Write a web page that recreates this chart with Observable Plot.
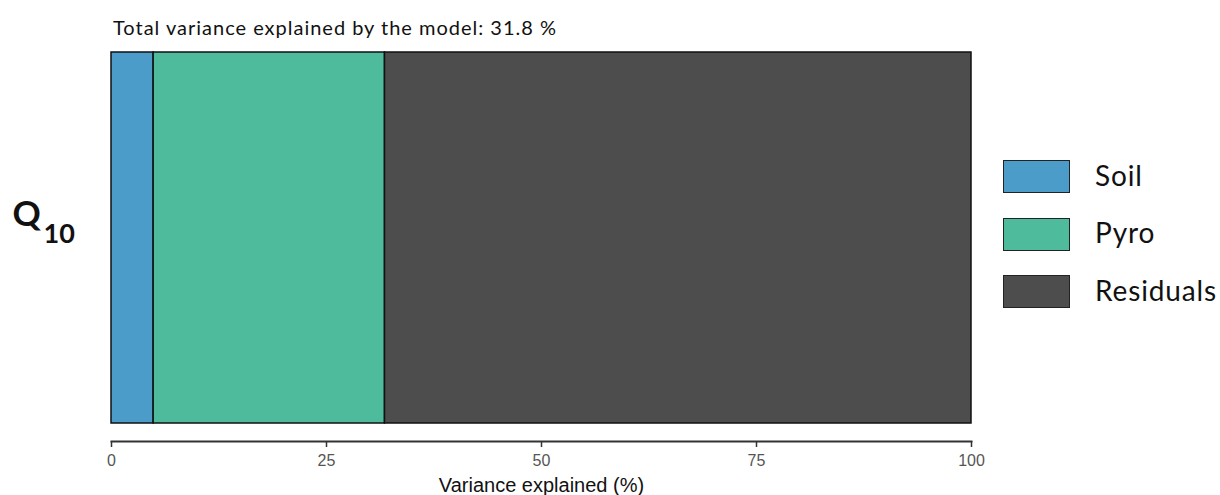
<!DOCTYPE html>
<html>
<head>
<meta charset="utf-8">
<script src="https://cdn.jsdelivr.net/npm/d3@7"></script>
<script src="https://cdn.jsdelivr.net/npm/@observablehq/plot@0.6"></script>
<style>
  body { margin: 0; background: #fff; }
  #wrap { position: relative; width: 1220px; height: 495px; overflow: hidden; }
  #title { position: absolute; left: 113px; top: 15px; font-family: Lato, "Open Sans", sans-serif; font-size: 20px; color: #111; white-space: nowrap; line-height: 24px; }
  #legend { position: absolute; left: 1003px; top: 160px; font-family: Lato, "Open Sans", sans-serif; font-size: 28px; color: #111; }
  .item { display: flex; align-items: center; height: 33px; margin-bottom: 24.5px; }
  .sw { width: 67px; height: 33px; border: 1.5px solid #222; margin-right: 25px; box-sizing: border-box; flex: none; }
  .lab { white-space: nowrap; position: relative; top: -2px; }
</style>
</head>
<body>
<div id="wrap">
  <div id="title"></div>
  <div id="legend"></div>
</div>
<script>
const components = ["Soil", "Pyro", "Residuals"];
const variance = [4.9, 26.9, 68.2];
const colors = ["#4B9CC9", "#4EBB9C", "#4D4D4D"];
const xTicks = [0, 25, 50, 75, 100];
const responseMain = "Q";
const responseSub = "10";
const response = "Q10";
const totalExplained = 31.8;

const data = components.map((c, i) => ({component: c, value: variance[i], response}));

// fit text width via letter spacing
function fitSpacing(el, target) {
  el.style.letterSpacing = "0px";
  const w = el.getBoundingClientRect().width;
  const n = el.textContent.length;
  if (n > 0) el.style.letterSpacing = ((target - w) / n) + "px";
}

const title = document.getElementById("title");
title.textContent = `Total variance explained by the model: ${totalExplained} %`;
fitSpacing(title, 444);

const legend = document.getElementById("legend");
const labs = [];
components.forEach((c, i) => {
  const it = document.createElement("div");
  it.className = "item";
  const sw = document.createElement("div");
  sw.className = "sw";
  sw.style.background = colors[i];
  const lab = document.createElement("span");
  lab.className = "lab";
  lab.textContent = c;
  it.appendChild(sw); it.appendChild(lab);
  legend.appendChild(it);
  labs.push(lab);
});
{
  const w = labs[2].getBoundingClientRect().width;
  const sp = (122 - w) / labs[2].textContent.length;
  labs.forEach(l => l.style.letterSpacing = sp + "px");
}

const chart = Plot.plot({
  width: 1220,
  height: 495,
  marginTop: 52,
  marginBottom: 54,
  marginLeft: 111,
  marginRight: 249,
  style: {background: "transparent"},
  x: {domain: [0, 100], ticks: xTicks, label: null},
  y: {domain: [response], range: [52, 423], padding: 0, axis: null},
  color: {domain: components, range: colors},
  marks: [
    Plot.barX(data, {x: "value", y: "response", fill: "component", stroke: "#111", strokeWidth: 1.5, order: null}),
    Plot.frame({anchor: "bottom", stroke: "#333", strokeWidth: 2}),
    Plot.axisX({ticks: xTicks, tickSize: 6, tickPadding: 7, stroke: "#333", strokeWidth: 1.5,
      fontSize: 16, fontFamily: "'Liberation Sans', Arial, sans-serif", fill: "#555", label: null}),
    Plot.text(["Variance explained (%)"], {frameAnchor: "bottom", dy: 50, fontSize: 20,
      fontFamily: "'Liberation Sans', Arial, sans-serif", fill: "#111", text: d => d}),
    Plot.text([response], {y: d => d, frameAnchor: "left", dx: -99, dy: -23, textAnchor: "start",
      text: () => responseMain, fontSize: 35, fontWeight: "bold", fontFamily: "Lato, 'Open Sans', sans-serif", fill: "#111"}),
    Plot.text([response], {y: d => d, frameAnchor: "left", dx: -68, dy: -4, textAnchor: "start",
      text: () => responseSub, fontSize: 27, fontWeight: "bold", fontFamily: "Lato, 'Open Sans', sans-serif", fill: "#111"})
  ]
});
document.getElementById("wrap").appendChild(chart);
</script>
</body>
</html>
